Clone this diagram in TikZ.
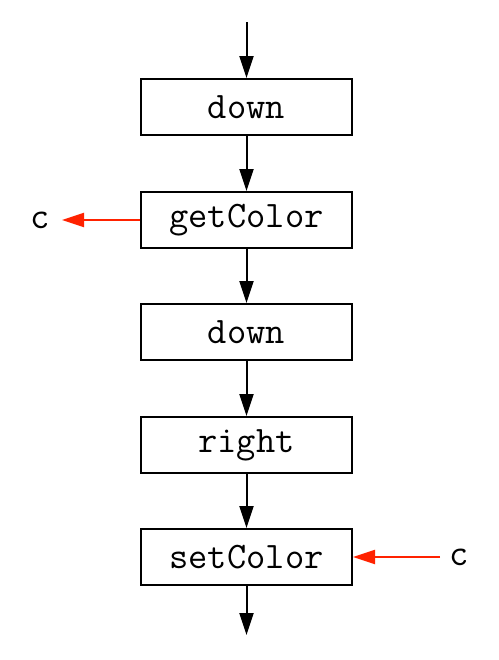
\documentclass[tikz,border=0pt]{standalone}
\usepackage{fontspec}
\usetikzlibrary{arrows.meta}
\definecolor{redarrow}{HTML}{FF2200}
\begin{document}
\begin{tikzpicture}[x=0.5pt,y=-0.5pt,
  box/.style={draw, line width=1pt, minimum width=105.5pt, minimum height=28pt, inner sep=0pt, font=\ttfamily\fontsize{18.7}{20}\selectfont},
  lbl/.style={inner sep=0pt, font=\ttfamily\fontsize{18.7}{20}\selectfont},
  flow/.style={line width=1pt, -{Triangle[length=11pt,width=7pt]}},
  redflow/.style={line width=1pt, redarrow, -{Triangle[length=11pt,width=7pt]}}]
\useasboundingbox (0,0) rectangle (499,660);
\node[box] (b1) at (246.5,107) {down};
\node[box] (b2) at (246.5,220) {getColor};
\node[box] (b3) at (246.5,332) {down};
\node[box] (b4) at (246.5,445) {right};
\node[box] (b5) at (246.5,557) {setColor};
\coordinate (top) at (246.5,22);
\coordinate (bot) at (246.5,635);
\node[lbl] (c1) at (40,220) {c};
\node[lbl] (c2) at (459,557) {c};
\draw[flow] (top) -- (b1.north);
\draw[flow] (b1) -- (b2);
\draw[flow] (b2) -- (b3);
\draw[flow] (b3) -- (b4);
\draw[flow] (b4) -- (b5);
\draw[flow] (b5.south) -- (bot);
\draw[redflow] (b2.west) -- (62,220);
\draw[redflow] (440,557) -- (b5.east);
\end{tikzpicture}
\end{document}
